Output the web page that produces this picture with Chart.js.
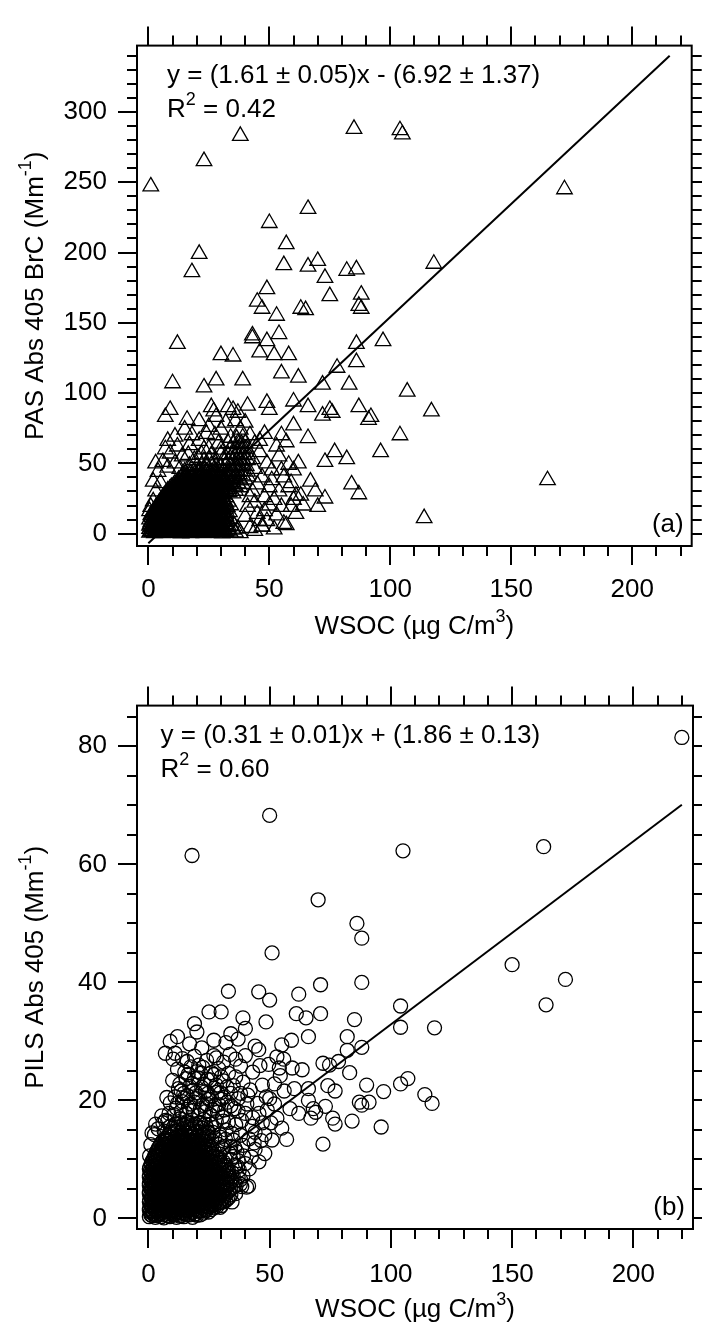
<!DOCTYPE html>
<html>
<head>
<meta charset="utf-8">
<script src="https://cdn.jsdelivr.net/npm/chart.js"></script>
<style>
  body { margin: 0; background: #fff; }
  canvas { display: block; }
</style>
</head>
<body>
<canvas id="chartA" width="702" height="660"></canvas>
<canvas id="chartB" width="702" height="663"></canvas>
<script>
// tick labels
const wsocTicks = [0, 50, 100, 150, 200];
const pasTicks = [0, 50, 100, 150, 200, 250, 300];
const pilsTicks = [0, 20, 40, 60, 80];

// fit lines (end points)
const pasFit = [[0, -6.9], [215.5, 340]];
const pilsFit = [[0, 1.86], [220, 70.1]];

// (a) PAS Abs 405 BrC vs WSOC, [x, y]
const pasOutliers = [
  [1,247],[23,265],[38,283],[85,288],[104,287],[105,284],[172,245],[21,199],[18,186],[50,221],[66,231],[57,206],
  [56,191],[66,190],[70,194],[82,187],[86,188],[73,182],[118,192],[49,174],[45,165],[47,160],[53,155],[75,169],
  [88,170],[88,160],[87,162],[63,160],[65,159],[43,141],[43,139],[54,142],[49,137],[46,129],[52,127],[58,127],
  [30,127],[35,126],[12,135],[55,114],[62,111],[86,135],[86,122],[78,118],[97,137],[72,106],[83,106],[107,101],
  [10,107],[23,104],[28,109],[39,109],[60,94],[66,90],[49,93],[50,88],[41,91],[33,90],[35,88],[37,86],[26,90],
  [27,87],[28,83],[9,88],[7,83],[16,81],[21,80],[11,69],[72,84],[76,86],[75,88],[87,90],[91,81],[92,83],[117,87],
  [114,11],[104,70],[96,58],[84,35],[87,28],[77,58],[82,53],[73,51],[66,68],[67,37],[69,30],[73,25],[70,19],
  [58,33],[61,27],[60,24],[59,19],[56,7],[57,6],[47,5],[52,24],[48,16],[54,55],[60,77],[165,38]
];
const pasSpread = [
  [2,23],[1,19],[0.5,16],[3,30],[5,36],[2,37],[4,44],[6,51],[8,47],[3,50],[9,57],[12,62],[7,60],[14,55],
  [16.5,56],[20.5,54],[11,50],[13,46],[17,63],[21,66],[24,71],[27.5,70],[25,76],[30,74],[32,79],[29,64],[23,60],
  [18,70],[15,74],[8,66],[43,30],[44,22],[45,14],[46,9],[42,4],[44,2],[40,12],[41,19],[42,26],[45,35],[47,40],
  [44,46],[43,53],[46,58],[44,64],[42,70],[38,74],[40,79],[36,80],[48,26],[50,33],[51,45],[49,50],[53,62],[55,45],
  [51,38],[54,30],[50,20],[53,13],[49,9],[52,3],[47,5],[46,66],[48,71],[55,70],[57,65],[58,49],[56,40],[60,45],
  [62,50],[59,36],[63,27],[64,20],[61,14],[55,19]
];
const pasCore = [
  [0.5,0.8],[1.5,1.2],[2.5,0.4],[3.5,1.5],[4.5,0.9],[6,0.3],[7,1.3],[8.5,0.7],[9.5,1.6],[11,0.5],[12,1.1],[13.5,0.2],
  [15,1.4],[16,0.8],[17.5,0.4],[19,1.2],[20,0.6],[21.5,1.5],[23,0.3],[24.5,1],[26,0.5],[27.5,1.3],[29,0.7],[30.5,0.2],
  [32,1.1],[34,0.6],[36,0.9],[38,0.4],
  [1.2,2],[2.8,1.7],[4,2.3],[5.2,1.9],[6.6,2.2],[7.8,1.8],[9,2.4],[10.2,1.9],[11.6,2.1],[12.8,1.7],[14.2,2.3],[15.4,1.9],
  [16.8,2.2],[18,1.8],[19.4,2.4],[20.6,2],[22,1.7],[23.4,2.2],[24.8,1.9],[26.4,2.3],[27.8,1.8],[29.6,2.1],[31.2,1.9],[33.2,2.2],
  [0.5,3.4],[2,2.8],[3,3.9],[4.5,2.5],[5.5,3.6],[7,3.1],[8,2.6],[9.5,3.8],[10.5,2.9],[12,3.3],[13,2.4],[14.5,3.7],
  [16,3],[17,2.5],[18.5,3.9],[20,2.7],[21,3.4],[22.5,2.9],[24,3.6],[25.5,2.4],[27,3.2],[28.5,2.8],[30,3.7],[31.5,2.6],
  [33,3.3],[35,2.9],[37,3.5],
  [1.2,4.4],[2.4,4.8],[3.8,4.2],[5,4.6],[6.2,4.3],[7.6,4.9],[8.8,4.4],[10,4.7],[11.4,4.1],[12.6,4.6],[13.8,4.3],[15.2,4.9],
  [16.4,4.4],[17.8,4.7],[19,4.2],[20.4,4.6],[21.6,4.3],[23,4.8],[24.4,4.4],[25.8,4.7],[27.4,4.2],[29,4.6],[30.8,4.4],[32.6,4.8],
  [0.5,5.8],[1.5,5.2],[3,6.1],[4,5.4],[5.5,5],[6.5,6.2],[8,5.6],[9,5.1],[10.5,6],[12,5.3],[13,6.3],[14.5,5.5],
  [15.5,4.9],[17,6],[18,5.4],[19.5,6.4],[21,5.1],[22,5.9],[23.5,5.3],[25,6.2],[26.5,5],[28,5.7],[29.5,6.1],[31,5.2],
  [33,5.8],[35.5,5.4],
  [0.8,6.8],[2.4,7.3],[3.8,6.9],[5,7.2],[6.4,6.7],[7.8,7.1],[9,6.8],[10.4,7.4],[11.6,6.9],[13,7.2],[14.2,6.7],[15.6,7.3],
  [16.8,6.9],[18.2,7.2],[19.6,6.8],[20.8,7.4],[22.2,6.9],[23.6,7.1],[25,6.8],[26.6,7.3],[28.2,6.9],[30,7.2],[32,6.8],
  [1,8.2],[2,7.6],[3.5,8.6],[5,7.8],[6,8.4],[7.5,7.5],[8.5,8.8],[10,8],[11,7.4],[12.5,8.5],[14,7.9],[15,8.7],
  [16.5,7.6],[18,8.3],[19,7.7],[20.5,8.9],[22,8.1],[23,7.5],[24.5,8.6],[26,7.9],[27.5,8.4],[29,7.6],[31,8.2],[33,8.7],
  [1.4,9.2],[2.6,9.6],[4,9.1],[5.2,9.5],[6.6,9.2],[7.8,9.7],[9,9.1],[10.4,9.4],[11.8,9.8],[13,9.2],[14.4,9.6],[15.6,9.1],
  [17,9.5],[18.4,9.3],[19.6,9.8],[21,9.2],[22.4,9.5],[23.8,9.1],[25.2,9.6],[26.8,9.3],[28.4,9.7],[30.4,9.2],[32.6,9.5],
  [0.5,10.2],[2,10.8],[3,10.1],[4.5,11],[5.5,10.4],[7,10.9],[8,10],[9.5,10.6],[11,11.2],[12,10.3],[13.5,10.8],
  [15,10.1],[16,11.1],[17.5,10.5],[19,10],[20,10.9],[21.5,10.4],[23,11.2],[24,10.2],[25.5,10.7],[27,11],[29,10.3],
  [31,10.8],[34,10.4],
  [1.4,11.7],[2.8,12.1],[4,11.6],[5.4,12],[6.8,11.7],[8,12.2],[9.2,11.6],[10.6,11.9],[12,11.5],[13.2,12.1],[14.6,11.7],
  [16,12.2],[17.2,11.6],[18.6,12],[20,11.7],[21.2,12.2],[22.6,11.6],[24,11.9],[25.6,11.5],[27.2,12],[29,11.7],[31,12.1],
  [1,13.2],[2.5,12.6],[3.5,13.5],[5,12.8],[6.5,13.1],[7.5,12.5],[9,13.6],[10,12.9],[11.5,13.3],[13,12.7],[14,13.8],
  [15.5,13],[17,12.6],[18,13.4],[19.5,12.8],[21,13.7],[22,13.1],[23.5,12.5],[25,13.3],[26.5,12.9],[28,13.6],[30,13],
  [32,12.7],
  [1.8,14.2],[3.2,14.6],[4.6,14.1],[6,14.5],[7.2,14],[8.6,14.6],[10,14.2],[11.2,14.7],[12.6,14.1],[14,14.5],[15.2,14],
  [16.6,14.6],[18,14.2],[19.2,14.7],[20.6,14.1],[22,14.5],[23.4,14],[24.8,14.6],[26.2,14.2],[28,14.7],[30,14.1],[32,14.5],
  [2,15.3],[3,15.9],[4,15.1],[5.5,15.7],[7,15.2],[8,16],[9.5,15.4],[11,15.8],[12,15],[13.5,16.1],[15,15.5],[16,15.1],
  [17.5,15.9],[19,15.3],[20,16.2],[21.5,15.6],[23,15],[24,15.8],[25.5,15.4],[27,16],[29,15.2],[31,15.7],[33.5,15.3],
  [2.4,16.7],[3.8,17.1],[5.2,16.6],[6.6,17],[8,16.5],[9.2,17.1],[10.6,16.7],[12,17.2],[13.2,16.6],[14.6,17],[16,16.5],
  [17.2,17.1],[18.6,16.7],[20,17.2],[21.2,16.6],[22.6,17],[24,16.5],[25.6,17.1],[27.2,16.7],[29,17.1],[31,16.6],
  [3,18.3],[4,17.8],[5,18.5],[6,17.6],[7.5,18.2],[9,18.7],[10,17.9],[11.5,18.4],[13,17.7],[14,18.6],[15.5,18],
  [17,18.8],[18,17.5],[19.5,18.3],[21,17.9],[22.5,18.6],[24,18.1],[25.5,17.7],[27,18.5],[28.5,18],[30,18.4],[32,17.8],
  [3.4,19.2],[4.6,19.6],[6,19.1],[7.2,19.5],[8.6,19],[10,19.6],[11.2,19.2],[12.6,19.7],[14,19.1],[15.2,19.5],[16.6,19],
  [18,19.6],[19.2,19.2],[20.6,19.7],[22,19.1],[23.2,19.5],[24.8,19],[26.4,19.6],[28,19.2],[30,19.6],[32.6,19.1],
  [4,20.3],[5,20.9],[6.5,20.1],[8,20.7],[9,20.4],[10.5,21.1],[12,20.2],[13,20.8],[14.5,20],[16,21],[17,20.5],
  [18.5,20.1],[20,20.9],[21,20.4],[22.5,21.2],[24,20.6],[25.5,20],[27,20.8],[29,20.3],[31,20.9],[34,20.2],
  [4.4,21.7],[5.8,22.1],[7.2,21.6],[8.4,22],[9.8,21.5],[11.2,22.1],[12.4,21.7],[13.8,22.2],[15.2,21.6],[16.4,22],
  [17.8,21.5],[19.2,22.1],[20.4,21.7],[21.8,22.2],[23.2,21.6],[24.6,22],[26.2,21.5],[28,22.1],[30,21.7],[32,22.1],
  [5,23.1],[6,22.6],[7,23.4],[8.5,22.8],[10,23.6],[11,23],[12.5,22.5],[14,23.3],[15,22.9],[16.5,23.7],[18,23.2],
  [19,22.7],[20.5,23.5],[22,23],[23,22.6],[24.5,23.4],[26,22.9],[28,23.6],[30,23.1],[33,22.7],
  [5.4,24.2],[6.6,24.6],[8,24.1],[9.4,24.5],[10.6,24],[12,24.6],[13.4,24.2],[14.6,24.7],[16,24.1],[17.4,24.5],
  [18.6,24],[20,24.6],[21.4,24.2],[22.6,24.7],[24,24.1],[25.6,24.5],[27.2,24],[29,24.6],[31,24.2],
  [6,25.7],[7,25.1],[8,25.9],[9,25.3],[10.5,25.8],[12,25],[13,25.6],[14.5,26.1],[16,25.4],[17,25.9],[18.5,25.2],
  [20,26],[21,25.5],[22.5,25.1],[24,25.8],[25.5,25.3],[27,26],[29,25.4],[32,25.9],
  [6.4,26.7],[7.8,27.1],[9.2,26.6],[10.4,27],[11.8,26.5],[13.2,27.1],[14.4,26.7],[15.8,27.2],[17.2,26.6],[18.4,27],
  [19.8,26.5],[21.2,27.1],[22.4,26.7],[23.8,27.2],[25.2,26.6],[26.8,27],[28.6,26.5],[30.6,27.1],
  [7,28.2],[8,27.7],[9,28.5],[10.5,28],[11.5,28.6],[13,27.8],[14.5,28.3],[15.5,27.6],[17,28.4],[18.5,28.9],[19.5,28.1],
  [21,27.7],[22.5,28.5],[24,28],[25.5,28.7],[27,27.9],[29,28.4],[31,28],[35,28.6],
  [7.6,29.2],[8.8,29.6],[10.2,29.1],[11.6,29.5],[12.8,29],[14.2,29.6],[15.6,29.2],[16.8,29.7],[18.2,29.1],[19.6,29.5],
  [20.8,29],[22.2,29.6],[23.6,29.2],[25,29.7],[26.6,29.1],[28.4,29.5],[30.6,29.2],[33.4,29.6],
  [8,30.6],[9,30.1],[10,30.9],[11.5,30.4],[13,31],[14,30.3],[15.5,30.8],[17,30.2],[18,31.1],[19.5,30.6],[21,30],
  [22,30.7],[23.5,31.2],[25,30.4],[27,30.9],[29,30.3],[32,30.8],[36,30.5],
  [8.8,31.7],[10.2,32.1],[11.6,31.6],[12.8,32],[14.2,31.5],[15.6,32.1],[16.8,31.7],[18.2,32.2],[19.6,31.6],[20.8,32],
  [22.2,31.5],[23.6,32.1],[25,31.7],[26.6,32.2],[28.4,31.6],[30.6,32],[33.4,31.7],
  [9.5,33.2],[11,32.7],[12,33.5],[13.5,32.9],[15,33.6],[16,33],[17.5,32.6],[19,33.4],[20,33.8],[21.5,33.1],[23,32.7],
  [24.5,33.5],[26,33],[28,33.6],[30,33.2],[33,32.8],[36,33.4],[38,33],
  [10.4,34.2],[11.8,34.6],[13.2,34.1],[14.6,34.5],[15.8,34],[17.2,34.6],[18.6,34.2],[19.8,34.7],[21.2,34.1],[22.6,34.5],
  [23.8,34],[25.2,34.6],[26.8,34.2],[28.6,34.7],[30.6,34.1],[33,34.5],[35.6,34.2],
  [11,35.6],[13,35.2],[14,35.9],[15.5,35.3],[17,36],[18,35.4],[19.5,35.8],[21,35.1],[22.5,36.1],[24,35.5],[25.5,35.9],
  [27,35.2],[29,35.7],[31,36],[34,35.4],[37,35.8],[39,35.3],
  [12,36.7],[13.6,37.1],[15,36.6],[16.4,37],[17.6,36.5],[19,37.1],[20.4,36.7],[21.6,37.2],[23,36.6],[24.4,37],
  [25.8,36.5],[27.6,37.1],[29.6,36.7],[32,37.2],[34.6,36.6],
  [12.5,38.3],[14,37.8],[15,38.6],[16.5,38],[18,38.5],[19.5,37.9],[21,38.7],[22,38.2],[23.5,37.7],[25,38.4],[26.5,38.9],
  [28,38.1],[30,38.6],[32,38],[35,38.4],[38,37.9],[40,38.5],
  [13.6,39.4],[15.4,39.8],[16.8,39.3],[18.2,39.7],[19.6,39.2],[21,39.8],[22.4,39.4],[23.8,39.9],[25.2,39.3],[26.8,39.7],
  [28.4,39.2],[30.4,39.8],[32.6,39.4],[35,39.7],[37.6,39.3],
  [14,41.2],[15.5,40.7],[17,41.5],[18.5,40.9],[20,41.6],[21.5,41],[23,40.6],[24.5,41.4],[26,40.8],[27.5,41.7],[29,41.1],
  [31,40.7],[33,41.3],[36,41],[39,41.5],[41,40.8],
  [15.4,42.4],[17.4,42.8],[19.2,42.3],[20.8,42.7],[22.4,42.2],[24,42.8],[25.6,42.4],[27.2,42.9],[28.8,42.3],[30.6,42.7],
  [32.6,42.2],[35,42.8],[37.6,42.4],
  [15,44.2],[17,43.7],[19,44.5],[21,43.9],[22.5,44.6],[24,44],[26,43.6],[27.5,44.4],[29,44.8],[31,44.1],[33,43.7],
  [35,44.5],[37,44],[39,44.6],[41,44.1],
  [17,48.3],[20,47.6],[22,48.5],[24,47.9],[26,48.6],[28,48],[30,47.5],[32,48.4],[34,47.8],[36,48.5],[37.5,47.9],
  [39,48.6],[40.5,48.1],
  [19,52.4],[23,51.7],[25,52.6],[28,52],[31,52.5],[33,51.8],[35,52.6],[36.5,52],[38,52.7],[39.5,51.9],[41,52.4],
  [22,56.3],[26,55.7],[30,56.5],[33,55.9],[35,56.6],[36.5,56],[38,56.7],[39.5,55.8],[41,56.4],
  [25,60.4],[30,59.7],[34,60.5],[36,59.9],[37.5,60.6],[39,60],[40.5,60.5],
  [33,64.3],[35,63.7],[37,64.5],[38.5,63.9],[40,64.4],
  [34,68.2],[36.5,67.6],[39,68.4]
];

// (b) PILS Abs 405 vs WSOC, [x, y]
const pilsOutliers = [
  [220,81.5],[163,63],[105,62.3],[50,68.3],[18,61.5],[70,54],[86,50],[88,47.5],[51,45],[150,43],[172,40.5],[164,36.2],
  [104,36],[104,32.4],[118,32.3],[88,40],[71,39.6],[33,38.5],[45.5,38.4],[50,37],[62,38],[25,35],[30,35],[39,34],
  [19,33],[48.5,33.3],[61,34.7],[65,34],[71,34.7],[85,33.7],[34,31.3],[9,30],[7,28],[11,28],[16,26.6],[28,27.2],
  [45.5,28.6],[55,29.4],[59,30.2],[66,30.8],[82,30.8],[88,29],[82,28.5],[49.6,26.1],[54,25.5],[55.8,27],[53,27.4],
  [59.3,25.5],[72,26.3],[74.7,26],[78.4,26.6],[83,24.7],[90,22.6],[97,21.5],[104,22.8],[107,23.7],[114,21],
  [117,19.5],[87,19.7],[88,19.2],[91,19.7],[96,15.5],[84,16.5],[72,12.6],[74,22.5],[77,21.6],[66,22],[66,20],
  [69,18],[67,17],[76,17],[77,16],[73,19],[68,18.6],[7.6,20.5],[7,16.6],[1,12.5]
];
const pilsSpread = [
  [1.5,14.5],[4,15.2],[6.5,14.8],[9,15.6],[12,14.9],[14.5,15.8],[17,15.1],[19.5,16],[22,15.3],[24.5,14.6],[27,15.4],
  [29.5,14.2],[32,15],[34.5,14.4],[5.5,17.4],[8,16.5],[10.5,17.6],[13,16.9],[15.5,17.8],[18,16.7],[20.5,17.5],[23,16.8],
  [25.5,17.6],[28,16.4],[30.5,17.2],[33,16.3],[36,15.9],[38.5,16.6],[9,19.6],[11.5,18.7],[14,19.8],[16.5,18.9],[19,19.7],
  [21.5,18.6],[24,19.4],[26.5,18.5],[29,19.3],[31.5,18.4],[34,19.1],[37,18.2],[40,17.8],[43,17.1],[11,20.6],[13.5,21.6],
  [16,20.8],[18.5,21.7],[21,20.7],[23.5,21.5],[26,20.6],[28.5,21.4],[31,20.5],[34,21.2],[37,20.3],[41,20.9],[10,23.4],
  [13,22.8],[15.5,23.7],[18,22.9],[20.5,23.8],[23,22.7],[25.5,23.5],[28,22.6],[31,23.3],[35,22.5],[39,23.1],[12,25.3],
  [15,24.8],[17.5,25.7],[20,24.9],[22.5,25.6],[26,24.7],[29,25.4],[33,24.6],[14,27.1],[19,27.5],[24,26.8],[31,26.5],
  [36,27],[36,4.2],[38.5,5.4],[40.5,5.3],[35,7.1],[37.5,8.2],[40,9.3],[42.5,10.4],[34,10],[36.5,11.3],[39,12.4],
  [41.5,13.5],[44,14.6],[46.5,13.2],[44,11.7],[47,16.2],[49,18.4],[45,19.5],[42,21.8],[47,22.6],[50,20.3],[52,22.8],
  [38,25.8],[43,24.8],[46,25.9],[40,27.6],[44,29.2],[37,30.4],[32,29.8],[27,30.2],[22,28.9],[17,29.6],[12,30.8],
  [20,31.6],[40,32.2],[53,17],[55,15.3],[51,13.3],[48,11],[38,14.1],[35,13.3],[31,12.2],[29.5,10.9],[31,9.6],[33,8.1],
  [35.5,6.3],[0.5,10.6],[2.5,14.2],[24.8,1.1],[29.6,1.9],[34.5,2.8],[37.9,5.8],[41.3,5.5],
  [3,16],[6,16.2],[8.5,17.8],[11,16],[13.5,18.2],[16,16.4],[18.5,18.3],[21,16.2],[23.5,18.1],[26,16],[28.5,18],[31,16.5],
  [12,19.5],[14.8,20.4],[17.4,19.4],[19.8,20.3],[22.4,19.2],[25,20.2],[27.6,19.1],[30,20.2],[32.6,19.7],[35.4,18.6],
  [12.4,22],[14.6,21.2],[17,22.4],[19.6,21.3],[22,22.2],[24.6,21.2],[27.2,22.1],[29.8,21.3],[32.4,22.3],[16.4,24.4],
  [19,23.8],[21.6,24.6],[24.2,23.6],[27,24.4],[30,24],[36,24],[38,21.2],[40.6,19.4],[42.8,15.6],[45.6,17.8],[48,14.2],
  [50.5,16.2],[39.2,10.6],[41.6,8.4],[43.6,12.8],[37,9.8],[39,7.2],[35.6,12],[45.6,9.6],[10.2,27],[20.8,26],[27,27.6],
  [33.6,27.8],[48.6,20.6],[52,19.4],[56,21.6],[58.4,18.6],[60.2,22],[62,17.8],[57,13.4],[54.4,24.2],[63.4,25.2]
];
const pilsCore = [
  [0.4,0.3],[1.5,0.5],[2.9,0.2],[3.9,0.6],[5.3,0.3],[6.4,0.1],[7.7,0.5],[8.8,0.3],[10.1,0.6],[11.6,0.2],[12.9,0.4],
  [14.6,0.3],[16.1,0.6],[18.2,0.2],[20,0.55],
  [1,0.6],[2.3,0.7],[3.4,0.5],[4.7,0.8],[5.9,0.6],[7,0.7],[8.3,0.5],[9.6,0.8],[10.8,0.6],[12.3,0.7],[13.7,0.5],
  [15.3,0.8],[17.1,0.6],[19.1,0.7],[21.4,0.6],
  [0.8,1.1],[2.1,0.9],[3.2,1.2],[4.5,0.8],[5.6,1],[6.9,1.3],[8.1,0.9],[9.4,1.1],[10.9,0.8],[12.2,1.2],[13.7,1],
  [15.1,0.9],[16.4,1.3],[18,1],[19.6,0.8],[21.1,1.2],[22.6,0.9],
  [0.4,1.4],[1.5,1.3],[2.6,1.5],[3.9,1.3],[5,1.4],[6.2,1.2],[7.5,1.5],[8.7,1.3],[10.1,1.4],[11.5,1.2],[12.9,1.5],
  [14.3,1.3],[15.7,1.4],[17.2,1.2],[18.7,1.5],[20.2,1.3],[21.8,1.4],[23.7,1.3],[25.9,1.5],
  [0.4,1.7],[1.6,1.9],[2.7,1.5],[4.1,1.8],[5.2,1.6],[6.5,2],[7.9,1.7],[9.1,1.5],[10.5,1.9],[12.1,1.6],[13.4,1.8],
  [14.9,1.5],[16.2,1.9],[17.7,1.7],[19.1,1.6],[20.4,2],[22.1,1.7],[23.4,1.5],[25.1,1.9],[27,1.8],
  [1.1,2.1],[2.4,2],[3.6,2.2],[4.8,1.9],[6.1,2.1],[7.5,2],[8.9,2.2],[10.3,1.9],[11.7,2.1],[13.2,2],[14.5,2.2],
  [15.9,1.9],[17.4,2.1],[18.8,2],[20.1,2.2],[21.7,1.9],[23.2,2.1],[24.7,2],[26.3,2.2],[28.2,2],[30.2,2.2],
  [0.8,2.4],[2,2.6],[3.3,2.3],[4.4,2.5],[5.9,2.2],[7.1,2.6],[8.6,2.4],[10.1,2.3],[11.3,2.7],[12.9,2.4],[14.2,2.2],
  [15.7,2.6],[16.9,2.4],[18.5,2.3],[19.8,2.7],[21.3,2.4],[22.6,2.2],[24.1,2.6],[25.6,2.4],[27.1,2.3],[29.1,2.6],[31,2.8],
  [0.4,2.8],[1.6,2.7],[2.7,2.9],[4,2.6],[5.3,2.8],[6.6,2.7],[8,2.9],[9.3,2.6],[10.7,2.8],[12.2,2.7],[13.6,2.9],
  [15,2.6],[16.4,2.8],[17.8,2.7],[19.2,2.9],[20.6,2.6],[22,2.8],[23.4,2.7],[24.8,2.9],[26.3,2.6],[27.8,2.8],[29.7,2.7],[31.8,3],
  [0.5,3.1],[1.6,3.3],[2.9,3],[4,3.2],[5.4,3],[6.7,3.4],[8.2,3.1],[9.5,2.9],[11,3.3],[12.5,3.1],[13.8,2.9],[15.3,3.3],
  [16.6,3.1],[18,3],[19.5,3.4],[20.8,3.1],[22.3,2.9],[23.6,3.3],[25.1,3.1],[26.5,3],[28.1,3.4],[30.1,3.1],[32.6,3.3],
  [1.1,3.5],[2.4,3.4],[3.6,3.6],[4.8,3.3],[6.1,3.5],[7.5,3.4],[8.9,3.6],[10.3,3.3],[11.7,3.5],[13.1,3.4],[14.5,3.6],
  [15.9,3.3],[17.3,3.5],[18.7,3.4],[20.1,3.6],[21.5,3.3],[22.9,3.5],[24.3,3.4],[25.8,3.6],[27.3,3.3],[29,3.5],[31,3.4],[33.3,3.6],
  [0.8,3.8],[2.1,4],[3.4,3.7],[4.9,3.9],[6.2,3.7],[7.6,4.1],[9.1,3.8],[10.4,3.6],[11.9,4],[13.2,3.8],[14.7,3.6],
  [16.1,4],[17.4,3.8],[18.9,3.7],[20.2,4.1],[21.7,3.8],[23.1,3.6],[24.4,4],[25.9,3.8],[27.6,3.7],[29.5,4.1],[31.6,3.8],[34,4],
  [0.4,4.2],[1.6,4.1],[2.8,4.3],[4.1,4],[5.5,4.2],[6.9,4.1],[8.3,4.3],[9.7,4],[11.1,4.2],[12.5,4.1],[13.9,4.3],
  [15.3,4],[16.7,4.2],[18.1,4.1],[19.5,4.3],[20.9,4],[22.3,4.2],[23.7,4.1],[25.1,4.3],[26.6,4],[28.2,4.2],[30.2,4.1],[32.4,4.3],
  [0.4,4.5],[1.7,4.7],[3,4.4],[4.4,4.6],[5.8,4.4],[7.3,4.8],[8.6,4.5],[10.1,4.3],[11.4,4.7],[12.9,4.5],[14.2,4.3],
  [15.7,4.7],[17.1,4.5],[18.4,4.4],[19.9,4.8],[21.2,4.5],[22.7,4.3],[24.1,4.7],[25.4,4.5],[27.1,4.4],[28.6,4.8],
  [30.6,4.5],[33,4.6],
  [1.1,4.9],[2.4,4.8],[3.7,5],[5.1,4.7],[6.5,4.9],[7.9,4.8],[9.3,5],[10.7,4.7],[12.1,4.9],[13.5,4.8],[14.9,5],
  [16.3,4.7],[17.7,4.9],[19.1,4.8],[20.5,5],[21.9,4.7],[23.3,4.9],[24.7,4.8],[26.2,5],[27.8,4.7],[29.6,4.9],[31.6,4.8],[34,5],
  [0.8,5.2],[2.2,5.4],[3.7,5.1],[5.1,5.3],[6.4,5.1],[7.9,5.5],[9.2,5.2],[10.7,5],[12.1,5.4],[13.4,5.2],[14.9,5],
  [16.2,5.4],[17.7,5.2],[19.1,5.1],[20.4,5.5],[21.9,5.2],[23.2,5],[24.7,5.4],[26.1,5.2],[27.6,5.1],[29.6,5.5],
  [32.1,5.2],[35,5.3],
  [0.4,5.6],[1.5,5.5],[2.9,5.7],[4.3,5.4],[5.7,5.6],[7.1,5.5],[8.5,5.7],[9.9,5.4],[11.3,5.6],[12.7,5.5],[14.1,5.7],
  [15.5,5.4],[16.9,5.6],[18.3,5.5],[19.7,5.7],[21.1,5.4],[22.5,5.6],[23.9,5.5],[25.3,5.7],[26.8,5.4],[28.4,5.6],[30.4,5.5],[32.8,5.7],
  [0.4,5.9],[1.8,6.1],[3.3,5.8],[4.6,6],[6.1,5.8],[7.4,6.2],[8.9,5.9],[10.2,5.7],[11.7,6.1],[13.1,5.9],[14.4,5.7],
  [15.9,6.1],[17.2,5.9],[18.7,5.8],[20.1,6.2],[21.4,5.9],[22.9,5.7],[24.2,6.1],[25.7,5.9],[27.1,5.8],[29.1,6.2],
  [31.1,5.9],[33.6,6],
  [1.1,6.3],[2.5,6.2],[3.9,6.4],[5.3,6.1],[6.7,6.3],[8.1,6.2],[9.5,6.4],[10.9,6.1],[12.3,6.3],[13.7,6.2],[15.1,6.4],
  [16.5,6.1],[17.9,6.3],[19.3,6.2],[20.7,6.4],[22.1,6.1],[23.5,6.3],[24.9,6.2],[26.4,6.4],[28,6.1],[29.8,6.3],[32,6.2],[34.4,6.4],
  [0.8,6.6],[2.3,6.8],[3.6,6.5],[5.1,6.7],[6.4,6.5],[7.9,6.9],[9.3,6.6],[10.6,6.4],[12.1,6.8],[13.4,6.6],[14.9,6.4],
  [16.3,6.8],[17.6,6.6],[19.1,6.5],[20.4,6.9],[21.9,6.6],[23.3,6.4],[24.6,6.8],[26.1,6.6],[28.1,6.5],[30.1,6.9],[32.6,6.6],
  [0.4,7],[1.5,6.9],[2.9,7.1],[4.3,6.8],[5.7,7],[7.1,6.9],[8.5,7.1],[9.9,6.8],[11.3,7],[12.7,6.9],[14.1,7.1],
  [15.5,6.8],[16.9,7],[18.3,6.9],[19.7,7.1],[21.1,6.8],[22.5,7],[23.9,6.9],[25.3,7.1],[26.9,6.8],[28.7,7],[30.9,6.9],[33.2,7.1],
  [0.4,7.3],[1.9,7.5],[3.2,7.2],[4.7,7.4],[6.1,7.2],[7.4,7.6],[8.9,7.3],[10.3,7.1],[11.6,7.5],[13.1,7.3],[14.4,7.1],
  [15.9,7.5],[17.3,7.3],[18.6,7.2],[20.1,7.6],[21.4,7.3],[22.9,7.1],[24.3,7.5],[25.9,7.3],[27.6,7.2],[29.6,7.6],[32.1,7.3],
  [1.1,7.7],[2.6,7.6],[4,7.8],[5.4,7.5],[6.8,7.7],[8.2,7.6],[9.6,7.8],[11,7.5],[12.4,7.7],[13.8,7.6],[15.2,7.8],
  [16.6,7.5],[18,7.7],[19.4,7.6],[20.8,7.8],[22.2,7.5],[23.6,7.7],[25.1,7.6],[26.7,7.8],[28.6,7.5],[30.8,7.7],[33,7.6],
  [0.8,8],[2.3,8.2],[3.7,7.9],[5.1,8.1],[6.4,7.9],[7.9,8.3],[9.3,8],[10.7,7.8],[12.1,8.2],[13.4,8],[14.9,7.8],
  [16.3,8.2],[17.7,8],[19.1,7.9],[20.4,8.3],[21.9,8],[23.3,7.8],[24.9,8.2],[26.6,8],[28.6,7.9],[31.1,8.2],
  [0.4,8.4],[1.5,8.3],[3,8.5],[4.4,8.2],[5.8,8.4],[7.2,8.3],[8.6,8.5],[10,8.2],[11.4,8.4],[12.8,8.3],[14.2,8.5],
  [15.6,8.2],[17,8.4],[18.4,8.3],[19.8,8.5],[21.2,8.2],[22.6,8.4],[24.1,8.3],[25.7,8.5],[27.6,8.2],[30,8.4],[32.4,8.3],
  [0.6,8.7],[2.1,8.9],[3.4,8.6],[4.9,8.8],[6.3,8.6],[7.6,9],[9.1,8.7],[10.4,8.5],[11.9,8.9],[13.3,8.7],[14.6,8.5],
  [16.1,8.9],[17.4,8.7],[18.9,8.6],[20.3,9],[21.6,8.7],[23.1,8.5],[24.7,8.9],[26.6,8.7],[29.1,8.6],
  [1.3,9.1],[2.8,9],[4.2,9.2],[5.6,8.9],[7,9.1],[8.4,9],[9.8,9.2],[11.2,8.9],[12.6,9.1],[14,9],[15.4,9.2],
  [16.8,8.9],[18.2,9.1],[19.6,9],[21,9.2],[22.5,8.9],[24,9.1],[25.6,9],[27.6,9.2],[30,9],
  [1.2,9.4],[2.7,9.6],[4.1,9.3],[5.4,9.5],[6.9,9.3],[8.3,9.7],[9.6,9.4],[11.1,9.2],[12.4,9.6],[13.9,9.4],[15.3,9.2],
  [16.6,9.6],[18.1,9.4],[19.4,9.3],[20.9,9.7],[22.4,9.4],[24.1,9.2],[26.1,9.6],[28.6,9.4],
  [1.7,9.8],[3.2,9.7],[4.6,9.9],[6,9.6],[7.4,9.8],[8.8,9.7],[10.2,9.9],[11.6,9.6],[13,9.8],[14.4,9.7],[15.8,9.9],
  [17.2,9.6],[18.6,9.8],[20,9.7],[21.5,9.9],[23,9.6],[24.7,9.8],[26.8,9.7],[29.4,9.9],
  [2.1,10.1],[3.4,10.3],[4.9,10],[6.3,10.2],[7.6,10],[9.1,10.4],[10.4,10.1],[11.9,9.9],[13.3,10.3],[14.6,10.1],
  [16.1,9.9],[17.4,10.3],[18.9,10.1],[20.3,10],[21.9,10.4],[23.6,10.1],[25.6,9.9],[28.1,10.3],
  [2.5,10.5],[4,10.4],[5.4,10.6],[6.8,10.3],[8.2,10.5],[9.6,10.4],[11,10.6],[12.4,10.3],[13.8,10.5],[15.2,10.4],
  [16.6,10.6],[18,10.3],[19.4,10.5],[20.9,10.4],[22.6,10.6],[24.4,10.3],[26.6,10.5],[29,10.4],
  [2.8,10.8],[4.3,11],[5.6,10.7],[7.1,10.9],[8.4,10.7],[9.9,11.1],[11.3,10.8],[12.6,10.6],[14.1,11],[15.4,10.8],
  [16.9,10.6],[18.3,11],[19.6,10.8],[21.3,10.7],[23.1,11.1],[25.1,10.8],[27.6,10.6],
  [3.3,11.2],[4.7,11.1],[6.1,11.3],[7.5,11],[8.9,11.2],[10.3,11.1],[11.7,11.3],[13.1,11],[14.5,11.2],[15.9,11.1],
  [17.3,11.3],[18.7,11],[20.2,11.2],[21.9,11.1],[23.8,11.3],[26.2,11],
  [3.6,11.5],[5.1,11.7],[6.4,11.4],[7.9,11.6],[9.3,11.4],[10.6,11.8],[12.1,11.5],[13.4,11.3],[14.9,11.7],[16.3,11.5],
  [17.6,11.3],[19.1,11.7],[20.7,11.5],[22.4,11.4],[24.6,11.8],[27.1,11.5],
  [4.1,11.9],[5.6,11.8],[7,12],[8.4,11.7],[9.8,11.9],[11.2,11.8],[12.6,12],[14,11.7],[15.4,11.9],[16.8,11.8],
  [18.2,12],[19.8,11.7],[21.6,11.9],[23.6,11.8],[26,12],
  [4.6,12.2],[6.1,12.4],[7.4,12.1],[8.9,12.3],[10.3,12.1],[11.6,12.5],[13.1,12.2],[14.4,12],[15.9,12.4],[17.3,12.2],
  [18.9,12],[20.6,12.4],[22.6,12.2],[25.1,12.1],
  [5.1,12.6],[6.6,12.5],[8,12.7],[9.4,12.4],[10.8,12.6],[12.3,12.5],[13.8,12.7],[15.2,12.4],[16.6,12.6],[18.1,12.5],
  [19.8,12.7],[21.8,12.4],[24.2,12.6],
  [5.6,12.9],[7.1,13.1],[8.6,12.8],[10.1,13],[11.6,12.8],[13.1,13.2],[14.6,12.9],[16.1,12.7],[17.6,13.1],[19.1,12.9],
  [21.1,12.8],[23.6,13.1],
  [6.3,13.3],[7.8,13.2],[9.3,13.4],[10.8,13.1],[12.3,13.3],[13.8,13.2],[15.3,13.4],[16.8,13.1],[18.3,13.3],[20,13.2],[22.3,13.4],
  [7.1,13.6],[9.1,13.8],[11.1,13.5],[13.1,13.7],[15.1,13.5],[17.1,13.9],[19.1,13.6],[21.6,13.7],
  [8,14],[10,14.2],[12,13.9],[14,14.1],[16,14],[18,14.2],[20.2,14],
  [9,14.6],[11,14.8],[13,14.5],[15,14.7],[17,14.5],[19,14.8],[21,14.6],[23,14.7],[25,14.5],
  [10,15.3],[12,15.5],[14,15.2],[16,15.4],[18,15.2],[20,15.5],[22,15.3],[24,15.4],
  [11.5,16],[13.5,16.2],[15.5,15.9],[17.5,16.1],[19.5,15.9],[21.5,16.2],[23.5,16],
  [34.5,7.8],[35.6,9],[36.2,5.6],[37,7],[35,10.5],[36.8,8.8],[38,6.6],[33.6,11],[32.2,9],[34,12.2],[30.6,11.8],
  [31.8,13.4],[28.6,12.6],[27.4,13.6],[29.6,13.8],[26,13.3],[24.8,13.9],[23,14],[26.6,14.6]
];

const FONT = '"Liberation Sans", Arial, Helvetica, sans-serif';
Chart.defaults.font.family = FONT;
Chart.defaults.color = '#000';

// text with superscripts: parts = [[text, isSup], ...]
function richText(ctx, parts, x, y, align) {
  let total = 0;
  const widths = parts.map(p => {
    ctx.font = (p[1] ? 18 : 26) + 'px ' + FONT;
    const w = ctx.measureText(p[0]).width;
    total += w;
    return w;
  });
  let cx = align === 'center' ? x - total / 2 : (align === 'right' ? x - total : x);
  parts.forEach((p, i) => {
    ctx.font = (p[1] ? 18 : 26) + 'px ' + FONT;
    ctx.fillText(p[0], cx, p[1] ? y - 12 : y);
    cx += widths[i];
  });
}

function deco(cfg) {
  return {
    id: 'deco',
    afterDraw(chart) {
      const { ctx, chartArea: a, scales } = chart;
      const xs = scales.x, ys = scales.y;
      ctx.save();
      ctx.strokeStyle = '#000';
      ctx.lineWidth = 2;
      ctx.beginPath();
      for (let v = 0; v <= xs.max; v += cfg.xMinor) {
        const p = Math.round(xs.getPixelForValue(v));
        const len = v % cfg.xMajor === 0 ? 19 : 10;
        ctx.moveTo(p, a.bottom); ctx.lineTo(p, a.bottom + len);
        ctx.moveTo(p, a.top); ctx.lineTo(p, a.top - len);
      }
      for (let v = 0; v <= ys.max; v += cfg.yMinor) {
        const p = Math.round(ys.getPixelForValue(v));
        const len = v % cfg.yMajor === 0 ? 19 : 10;
        ctx.moveTo(a.left, p); ctx.lineTo(a.left - len, p);
        ctx.moveTo(a.right, p); ctx.lineTo(a.right + len, p);
      }
      ctx.stroke();
      ctx.strokeRect(a.left, a.top, a.right - a.left, a.bottom - a.top);

      ctx.fillStyle = '#000';
      ctx.textAlign = 'left';
      ctx.textBaseline = 'alphabetic';
      richText(ctx, [[cfg.eq, false]], a.left + cfg.textLeft, a.top + 37.5, 'left');
      richText(ctx, [['R', false], ['2', true], [' = ' + cfg.r2, false]], a.left + cfg.textLeft, a.top + 71.5, 'left');
      richText(ctx, [[cfg.tag, false]], a.right - 8, a.bottom - 14.5, 'right');
      richText(ctx, [['WSOC (\u00b5g C/m', false], ['3', true], [')', false]], (a.left + a.right) / 2, a.bottom + 88, 'center');
      ctx.translate(43, (a.top + a.bottom) / 2);
      ctx.rotate(-Math.PI / 2);
      richText(ctx, [[cfg.yTitle + ' (Mm', false], ['-1', true], [')', false]], 0, 0, 'center');
      ctx.restore();
    }
  };
}

function buildChart(id, points, fit, style, radius, yTicks, yMin, yMax, topPad, xHeight, xPad, cfg) {
  return new Chart(document.getElementById(id), {
    type: 'scatter',
    data: {
      datasets: [
        {
          type: 'line',
          data: fit.map(p => ({ x: p[0], y: p[1] })),
          borderColor: '#000',
          borderWidth: 2,
          pointRadius: 0,
          fill: false,
          order: 0
        },
        {
          data: points.map(p => ({ x: p[0], y: p[1] })),
          pointStyle: style,
          pointRadius: radius,
          borderColor: '#000',
          borderWidth: 1.3,
          backgroundColor: 'rgba(0,0,0,0)',
          order: 1
        }
      ]
    },
    options: {
      responsive: false,
      animation: false,
      events: [],
      layout: { padding: { top: topPad, right: 9, left: 0, bottom: 0 } },
      plugins: { legend: { display: false }, tooltip: { enabled: false } },
      scales: {
        x: {
          type: 'linear', min: -4.7, max: 224.6,
          grid: { display: false, drawTicks: false },
          border: { display: false },
          afterBuildTicks: s => { s.ticks = wsocTicks.map(v => ({ value: v })); },
          afterFit: s => { s.height = xHeight; },
          ticks: { padding: xPad, font: { size: 26 }, color: '#000', maxRotation: 0, autoSkip: false }
        },
        y: {
          type: 'linear', min: yMin, max: yMax,
          grid: { display: false, drawTicks: false },
          border: { display: false },
          afterBuildTicks: s => { s.ticks = yTicks.map(v => ({ value: v })); },
          afterFit: s => { s.width = 137; },
          ticks: { padding: 30, font: { size: 26 }, color: '#000', autoSkip: false }
        }
      }
    },
    plugins: [deco(cfg)]
  });
}

buildChart('chartA', pasOutliers.concat(pasSpread, pasCore), pasFit, 'triangle', 9, pasTicks, -8.8, 347.2, 31, 114, 28.5, {
  xMinor: 10, xMajor: 50, yMinor: 10, yMajor: 50, textLeft: 30,
  eq: 'y = (1.61 \u00b1 0.05)x - (6.92 \u00b1 1.37)', r2: '0.42', tag: '(a)',
  yTitle: 'PAS Abs 405 BrC'
});

buildChart('chartB', pilsOutliers.concat(pilsSpread, pilsCore), pilsFit, 'circle', 7, pilsTicks, -1.78, 86.9, 36, 94, 30.5, {
  xMinor: 10, xMajor: 50, yMinor: 5, yMajor: 20, textLeft: 23.5,
  eq: 'y = (0.31 \u00b1 0.01)x + (1.86 \u00b1 0.13)', r2: '0.60', tag: '(b)',
  yTitle: 'PILS Abs 405'
});
</script>
</body>
</html>
